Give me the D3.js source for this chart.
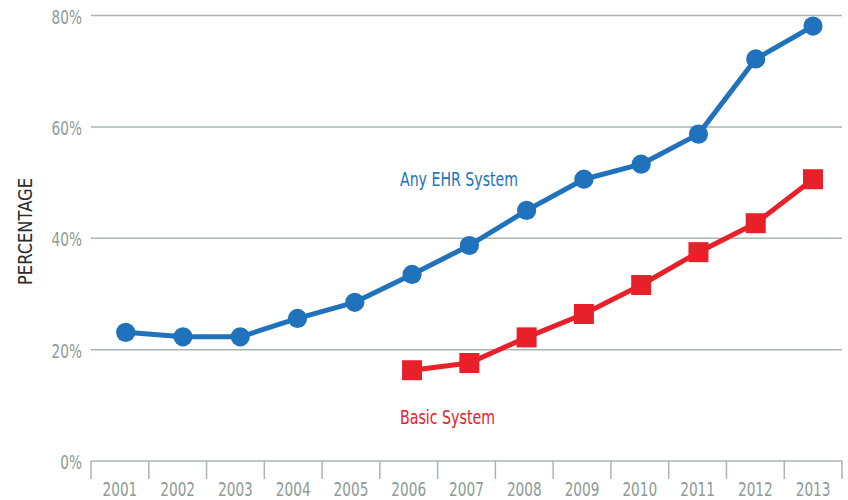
<!DOCTYPE html>
<html><head><meta charset="utf-8">
<script src="https://cdn.jsdelivr.net/npm/d3@7"></script>
<style>
body{margin:0;background:#fff;}
text{font-family:"Liberation Sans Narrow","DejaVu Sans Condensed","Arial Narrow",sans-serif;}
</style></head>
<body><svg id="c" width="848" height="500"></svg>
<script>
const years = ["2001","2002","2003","2004","2005","2006","2007","2008","2009","2010","2011","2012","2013"];
const anyEHR = [23.1,22.3,22.3,25.6,28.5,33.5,38.7,45.0,50.6,53.3,58.7,72.2,78.1];
const basicYears = ["2006","2007","2008","2009","2010","2011","2012","2013"];
const basicSys = [16.3,17.6,22.2,26.4,31.6,37.5,42.7,50.6];
const yTicks = [0,20,40,60,80];

const svg = d3.select("#c");
const gridC = "#aab6b1", textC = "#8e9b96", blue = "#1f72bb", red = "#e8202a";
const x = d3.scaleBand().domain(years).range([91,842]);
const xp = d3.scalePoint().domain(years).range([125.7,813]);
const y = d3.scaleLinear().domain([0,80]).range([461,15.5]);
const sx = 0.76;

// gridlines
svg.append("g").selectAll("line").data(yTicks.filter(d=>d>0)).join("line")
  .attr("x1",91).attr("x2",842).attr("y1",d=>y(d)).attr("y2",d=>y(d))
  .attr("stroke",gridC).attr("stroke-width",1.5);

// y labels
svg.append("g").selectAll("text").data(yTicks).join("text")
  .attr("transform",d=>`translate(82,${y(d)+8}) scale(${sx},1)`)
  .attr("text-anchor","end")
  .attr("fill",textC).attr("font-size",20).text(d=>d+"%");

// x axis
const xa = svg.append("g").attr("transform","translate(0,461)");
xa.append("line").attr("x1",91).attr("x2",842).attr("stroke",gridC).attr("stroke-width",1.5);
const bounds = years.map(d=>x(d)).concat([x(years[years.length-1])+x.bandwidth()]);
xa.selectAll("line.t").data(bounds).join("line").attr("class","t")
  .attr("x1",d=>d).attr("x2",d=>d).attr("y1",0).attr("y2",18)
  .attr("stroke",gridC).attr("stroke-width",1.5);
xa.selectAll("text").data(years).join("text")
  .attr("transform",d=>`translate(${x(d)+x.bandwidth()/2},35) scale(${sx},1)`)
  .attr("text-anchor","middle")
  .attr("fill",textC).attr("font-size",20).text(d=>d);

// y title
svg.append("text").attr("transform","translate(32,231.5) rotate(-90)")
  .attr("text-anchor","middle").attr("fill","#2b2b2b").attr("font-size",19)
  .attr("textLength",107).attr("lengthAdjust","spacingAndGlyphs").text("PERCENTAGE");

const line = d3.line().x(d=>xp(d[0])).y(d=>y(d[1]));

const anyData = years.map((d,i)=>[d,anyEHR[i]]);
const basicData = basicYears.map((d,i)=>[d,basicSys[i]]);

svg.append("path").datum(anyData).attr("d",line).attr("fill","none")
  .attr("stroke",blue).attr("stroke-width",5).attr("stroke-linejoin","round");
svg.append("g").selectAll("circle").data(anyData).join("circle")
  .attr("cx",d=>xp(d[0])).attr("cy",d=>y(d[1])).attr("r",9.6).attr("fill",blue);

svg.append("path").datum(basicData).attr("d",line).attr("fill","none")
  .attr("stroke",red).attr("stroke-width",5).attr("stroke-linejoin","round");
svg.append("g").selectAll("rect").data(basicData).join("rect")
  .attr("x",d=>xp(d[0])-10).attr("y",d=>y(d[1])-10).attr("width",20).attr("height",20).attr("fill",red);

svg.append("text").attr("x",400).attr("y",186).attr("fill",blue).attr("font-size",20)
  .attr("textLength",118).attr("lengthAdjust","spacingAndGlyphs").text("Any EHR System");
svg.append("text").attr("x",400).attr("y",424).attr("fill",red).attr("font-size",20)
  .attr("textLength",95).attr("lengthAdjust","spacingAndGlyphs").text("Basic System");
</script></body></html>
